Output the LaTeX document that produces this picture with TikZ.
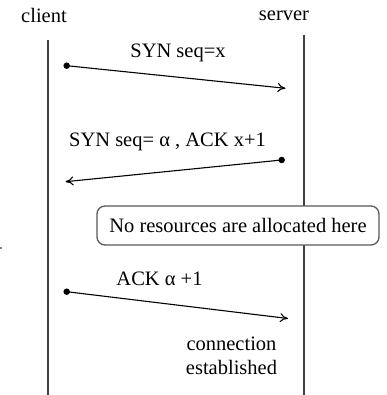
\documentclass[tikz,border=0pt]{standalone}
\usepackage{fontspec}
\setmainfont{Liberation Serif}
\usetikzlibrary{arrows.meta}
\tikzset{
  lbl/.style={inner sep=0pt, anchor=base, font=\fontsize{20.5}{26}\selectfont},
  lifeline/.style={draw=black!75, line width=1.4pt},
  msg/.style={draw=black, line width=1.1pt, -{To[length=8pt,width=9pt,line width=1.1pt]}},
  enddot/.style={fill=black, circle, inner sep=0pt, minimum size=6.5pt},
  notebox/.style={draw=black!65, line width=1.3pt, rounded corners=8pt, fill=white,
    minimum width=282pt, minimum height=39pt, inner sep=0pt, font=\fontsize{20.5}{26}\selectfont}
}
\begin{document}
\begin{tikzpicture}[x=1pt,y=-1pt]
\useasboundingbox (0,0) rectangle (386,395);
% headers
\node[lbl] (client) at (44,23) {client};
\node[lbl] (server) at (284,21) {server};
% lifelines
\coordinate (ctop) at (48,40);
\coordinate (cbot) at (48,395);
\coordinate (stop) at (304,35);
\coordinate (sbot) at (304,395);
\draw[lifeline] (ctop) -- (cbot);
\draw[lifeline] (stop) -- (sbot);
% message 1
\node[enddot] (m1s) at (66.7,65.7) {};
\coordinate (m1e) at (285.5,88.3);
\draw[msg] (m1s.center) -- (m1e);
\node[lbl] (l1) at (178,58) {SYN seq=x};
% message 2
\node[enddot] (m2s) at (281.7,160) {};
\coordinate (m2e) at (65.5,181.7);
\draw[msg] (m2s.center) -- (m2e);
\node[lbl] (l2) at (167.5,147) {SYN seq= α , ACK x+1};
% note
\node[notebox] (note) at (238,225.5) {No resources are allocated here};
% message 3
\node[enddot] (m3s) at (66.7,291.7) {};
\coordinate (m3e) at (288,318.5);
\draw[msg] (m3s.center) -- (m3e);
\node[lbl] (l3) at (159.5,285) {ACK α +1};
% established
\node[lbl] (conn) at (231.5,350) {connection};
\node[lbl] (est) at (231.5,374) {established};
% stray mark
\fill (1,248) circle (0.9pt);
\end{tikzpicture}
\end{document}
